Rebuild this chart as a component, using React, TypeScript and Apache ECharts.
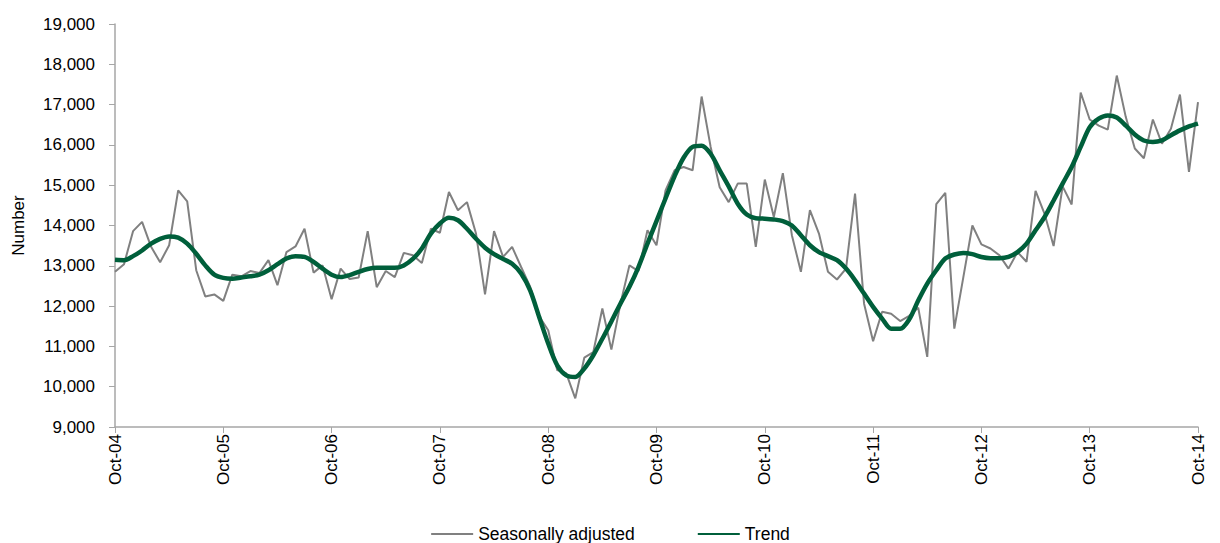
import React, { useEffect, useRef } from "react";
import * as echarts from "echarts";

const monthNames = ["Jan", "Feb", "Mar", "Apr", "May", "Jun", "Jul", "Aug", "Sep", "Oct", "Nov", "Dec"];
const startYear = 2004;
const startMonth = 9; // October
const monthCount = 121;

const categories: string[] = [];
for (let i = 0; i < monthCount; i++) {
  const m = (startMonth + i) % 12;
  const y = startYear + Math.floor((startMonth + i) / 12);
  categories.push(`${monthNames[m]}-${String(y % 100).padStart(2, "0")}`);
}

const seasonallyAdjusted = [
  12850, 13040, 13860, 14090, 13470, 13090, 13510, 14870, 14600, 12890, 12240, 12290,
  12130, 12780, 12740, 12870, 12820, 13140, 12520, 13340, 13480, 13920, 12830, 13010,
  12170, 12930, 12670, 12710, 13860, 12470, 12870, 12720, 13320, 13260, 13070, 13920,
  13820, 14830, 14380, 14580, 13800, 12290, 13860, 13220, 13470, 12970, 12480, 11750,
  11400, 10410, 10330, 9710, 10720, 10860, 11940, 10920, 12050, 13010, 12870, 13880,
  13510, 14870, 15370, 15450, 15370, 17200, 15950, 14950, 14580, 15040, 15040, 13470,
  15140, 14210, 15300, 13760, 12850, 14380, 13800, 12850, 12660, 12930, 14790, 12060,
  11130, 11860, 11810, 11630, 11760, 11960, 10740, 14530, 14810, 11440, 12720, 14000,
  13530, 13430, 13260, 12930, 13340, 13100, 14860, 14290, 13490, 14970, 14520, 17300,
  16630, 16480, 16380, 17720, 16690, 15910, 15670, 16630, 16030, 16400, 17250, 15330,
  17060,
];

const trend = [
  13150, 13140, 13240, 13380, 13550, 13670, 13730, 13700, 13550, 13300, 13010, 12780,
  12700, 12680, 12710, 12740, 12780, 12890, 13040, 13180, 13240, 13220, 13100, 12930,
  12780, 12720, 12770, 12850, 12920, 12950, 12950, 12950, 13010, 13170, 13430, 13800,
  14050, 14190, 14130, 13920, 13670, 13450, 13290, 13170, 13050, 12810, 12390, 11730,
  11070, 10530, 10280, 10240, 10450, 10780, 11190, 11620, 12060, 12480, 12970, 13550,
  14110, 14670, 15220, 15680, 15950, 15980, 15780, 15370, 14970, 14540, 14270, 14180,
  14170, 14150, 14110, 14000, 13760, 13510, 13340, 13240, 13140, 12930, 12640, 12310,
  11980, 11690, 11440, 11440, 11670, 12140, 12560, 12890, 13180, 13280, 13320, 13290,
  13220, 13190, 13190, 13220, 13340, 13550, 13880, 14210, 14620, 15040, 15450, 15950,
  16440, 16650, 16730, 16680, 16480, 16260, 16110, 16070, 16110, 16240, 16360, 16460,
  16530,
];

const FONT = '"Liberation Sans", Arial, sans-serif';

export default function App() {
  const ref = useRef<HTMLDivElement>(null);

  useEffect(() => {
    document.body.style.margin = "0";
    if (!ref.current) return;
    const chart = echarts.init(ref.current, undefined, { renderer: "svg" });
    chart.setOption({
      animation: false,
      backgroundColor: "#ffffff",
      textStyle: { fontFamily: FONT },
      grid: { left: 115, right: 22, top: 24, bottom: 116, containLabel: false },
      legend: {
        top: 520,
        left: "center",
        itemGap: 62,
        itemWidth: 42,
        itemHeight: 14,
        itemStyle: { opacity: 0 },
        textStyle: { fontFamily: FONT, fontSize: 17.5, color: "#000" },
        data: ["Seasonally adjusted", "Trend"],
      },
      xAxis: {
        type: "category",
        data: categories,
        boundaryGap: false,
        axisLine: { lineStyle: { color: "#A6A6A6", width: 1.5 } },
        axisTick: { show: true, interval: 11, length: 6, lineStyle: { color: "#A6A6A6" } },
        axisLabel: {
          interval: 11,
          rotate: 90,
          fontSize: 17,
          color: "#000",
          fontFamily: FONT,
          margin: 7,
        },
        splitLine: { show: false },
      },
      yAxis: {
        type: "value",
        min: 9000,
        max: 19000,
        interval: 1000,
        name: "Number",
        nameLocation: "middle",
        nameGap: 88,
        nameRotate: 90,
        nameTextStyle: { fontFamily: FONT, fontSize: 17, color: "#000" },
        axisLine: { show: true, lineStyle: { color: "#A6A6A6", width: 1.5 } },
        axisTick: { show: true, length: 6, lineStyle: { color: "#A6A6A6" } },
        axisLabel: {
          fontSize: 17,
          color: "#000",
          fontFamily: FONT,
          margin: 20,
          formatter: (v: number) => v.toLocaleString("en-US"),
        },
        splitLine: { show: false },
      },
      series: [
        {
          name: "Seasonally adjusted",
          type: "line",
          data: seasonallyAdjusted,
          symbol: "none",
          lineStyle: { color: "#808080", width: 2 },
          itemStyle: { color: "#808080" },
          z: 2,
        },
        {
          name: "Trend",
          type: "line",
          data: trend,
          symbol: "none",
          smooth: 0.3,
          lineStyle: { color: "#005F3B", width: 4.5 },
          itemStyle: { color: "#005F3B" },
          z: 3,
        },
      ],
    });
    return () => chart.dispose();
  }, []);

  return <div ref={ref} style={{ width: 1220, height: 543 }} />;
}
